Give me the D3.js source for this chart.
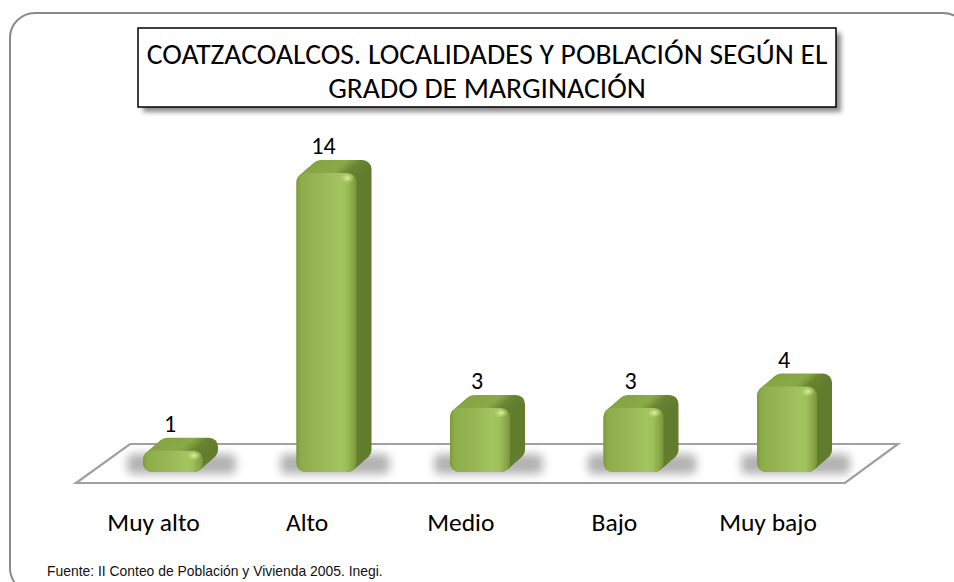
<!DOCTYPE html>
<html><head><meta charset="utf-8">
<script src="https://cdn.jsdelivr.net/npm/d3@7"></script>
<style>html,body{margin:0;padding:0;background:#fff;overflow:hidden}svg{display:block}</style>
</head><body>
<script>
const categories = ["Muy alto","Alto","Medio","Bajo","Muy bajo"];
const values = [1,14,3,3,4];
const titleLines = ["COATZACOALCOS. LOCALIDADES Y POBLACIÓN SEGÚN EL","GRADO DE MARGINACIÓN"];
const sourceText = "Fuente: II Conteo de Población y Vivienda 2005. Inegi.";

const W = 954, H = 582;
const FONT = "Carlito, Lato, sans-serif";
const svg = d3.select("body").append("svg").attr("width", W).attr("height", H);
const defs = svg.append("defs");

defs.append("filter").attr("id","blur4").attr("x","-50%").attr("y","-100%").attr("width","200%").attr("height","300%")
  .append("feGaussianBlur").attr("stdDeviation",5);
defs.append("filter").attr("id","blur2").attr("x","-10%").attr("y","-20%").attr("width","120%").attr("height","140%")
  .append("feGaussianBlur").attr("stdDeviation",2.5);

const gFront = defs.append("linearGradient").attr("id","front").attr("x1",0).attr("x2",1).attr("y1",0).attr("y2",0);
[[0,"#7d9a3c"],[0.08,"#8dad4a"],[0.45,"#98b955"],[0.72,"#a3c560"],[0.82,"#9fc15c"],[0.93,"#8aa946"],[1,"#7a963a"]]
  .forEach(([o,c])=>gFront.append("stop").attr("offset",o).attr("stop-color",c));
const gLayer = defs.append("linearGradient").attr("id","layer").attr("x1",0).attr("x2",1).attr("y1",0).attr("y2",0);
[[0,"#84a442"],[0.6,"#8aa947"],[0.72,"#7a973b"],[0.8,"#6b8733"],[1,"#617c2d"]]
  .forEach(([o,c])=>gLayer.append("stop").attr("offset",o).attr("stop-color",c));
const gSpot = defs.append("radialGradient").attr("id","spot");
[[0,"#e4f5a8",0.95],[1,"#c5e07f",0]]
  .forEach(([o,c,a])=>gSpot.append("stop").attr("offset",o).attr("stop-color",c).attr("stop-opacity",a));

// outer frame
svg.append("rect").attr("x",10).attr("y",13).attr("width",958).attr("height",580).attr("rx",25)
  .attr("fill","#fff").attr("stroke","#8a8a8a").attr("stroke-width",2);

// title box
svg.append("rect").attr("x",143).attr("y",33).attr("width",698).attr("height",79)
  .attr("fill","#8c8c8c").attr("filter","url(#blur2)");
svg.append("rect").attr("x",138).attr("y",28).attr("width",698).attr("height",79)
  .attr("fill","#fff").attr("stroke","#000").attr("stroke-width",1.5);
const titleTargets = [681, 312];
const titleT = svg.append("g").selectAll("text").data(titleLines).join("text")
  .attr("x",487).attr("y",(d,i)=>64+i*34).attr("text-anchor","middle")
  .attr("font-family",FONT).attr("font-size",24).attr("fill","#000").text(d=>d);
// fit one common font size so line 1 spans the box like the reference
{
  const len = titleT.nodes()[0].getComputedTextLength();
  const fs = Math.min(30, 24*titleTargets[0]/len);
  titleT.attr("font-size", fs);
}

// scales
const x = d3.scalePoint().domain(categories).range([173, 787]);
const y = d3.scaleLinear().domain([0,14]).range([472,173]);
const halfW = 30, dx = 15, dy = 13, rr = 9;

// floor
const floor = [[130,444],[898,444],[845,483],[76,483]];
svg.append("path").attr("d", d3.line()(floor)+"Z")
  .attr("fill","#fff").attr("stroke","#a0a0a0").attr("stroke-width",2.2).attr("stroke-linejoin","miter");

const data = categories.map((c,i)=>({c, v: values[i]}));

// shadows
svg.append("g").selectAll("rect").data(data).join("rect")
  .attr("x",d=>x(d.c)-halfW-16).attr("y",y(0)-18)
  .attr("width",2*halfW+dx+34).attr("height",20).attr("rx",6)
  .attr("fill","#000").attr("opacity",0.3).attr("filter","url(#blur4)");

// bars
const bars = svg.append("g").selectAll("g").data(data).join("g");
bars.each(function(d){
  const g = d3.select(this);
  const L = x(d.c)-halfW, T = y(d.v), B = y(0), w = 2*halfW;
  const n = 16;
  for (let k=0;k<=n;k++){
    const t = k/n;
    g.append("rect").attr("x",L+dx*(1-t)).attr("y",T-dy*(1-t)).attr("width",w).attr("height",B-T)
      .attr("rx",rr).attr("fill","url(#layer)");
  }
  g.append("rect").attr("x",L).attr("y",T).attr("width",w).attr("height",B-T).attr("rx",rr).attr("fill","url(#front)");
  g.append("ellipse").attr("cx",L+w-9).attr("cy",T+5).attr("rx",7).attr("ry",5).attr("fill","url(#spot)");
});

// value labels
svg.append("g").selectAll("text").data(data).join("text")
  .attr("x",d=>x(d.c)-3).attr("y",d=>y(d.v)-dy-6).attr("text-anchor","middle")
  .attr("font-family",FONT).attr("font-size",24).attr("fill","#000").text(d=>d.v);

// category labels
const xl = d3.scalePoint().domain(categories).range([153.5, 768]);
svg.append("g").selectAll("text").data(categories).join("text")
  .attr("x",d=>xl(d)).attr("y",531).attr("text-anchor","middle")
  .attr("font-family",FONT).attr("font-size",25.5).attr("fill","#000").text(d=>d);

// source
svg.append("text").attr("x",47).attr("y",576).attr("font-family","'Liberation Sans', Arial, sans-serif")
  .attr("font-size",13.9).attr("fill","#111").text(sourceText);
</script>
</body></html>
